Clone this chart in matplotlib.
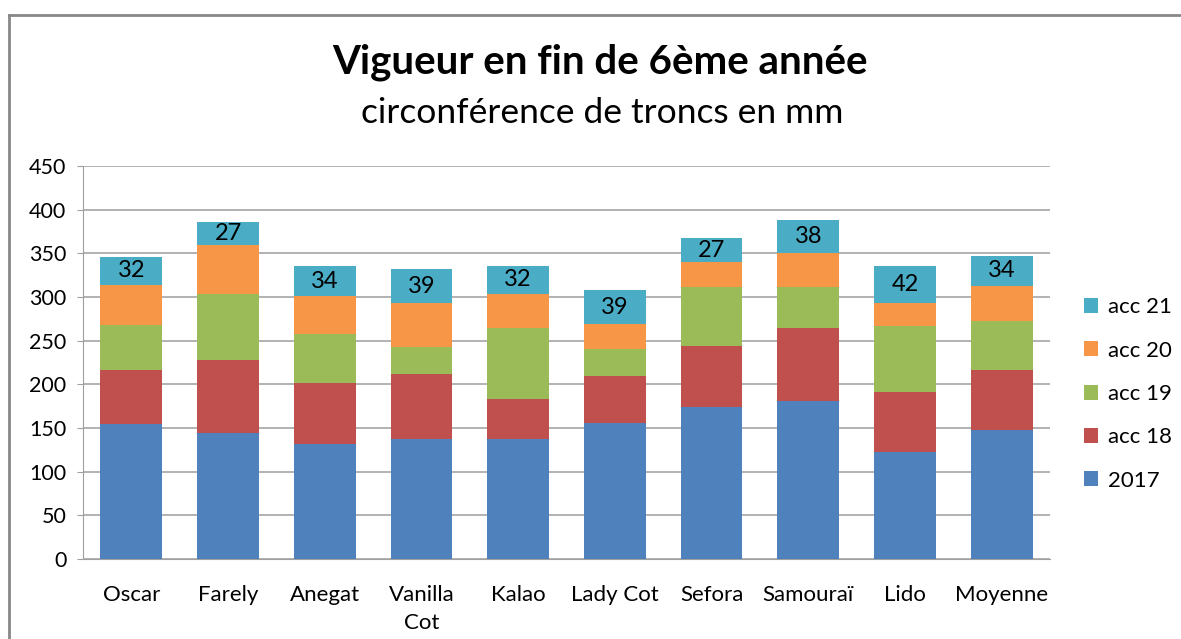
import matplotlib.pyplot as plt
import numpy as np
from matplotlib.lines import Line2D

plt.rcParams['font.family'] = ['Lato', 'DejaVu Sans']

varietes = ["Oscar", "Farely", "Anegat", "Vanilla\nCot", "Kalao", "Lady Cot",
            "Sefora", "Samouraï", "Lido", "Moyenne"]
v2017 = [155, 144, 132, 137, 137, 156, 174, 181, 123, 148]
acc18 = [61, 84, 70, 75, 46, 53, 70, 84, 68, 68]
acc19 = [52, 76, 56, 31, 82, 31, 68, 46, 76, 57]
acc20 = [46, 55, 43, 50, 39, 29, 28, 39, 26, 40]
acc21 = [32, 27, 34, 39, 32, 39, 27, 38, 42, 34]

series = [("2017", v2017, "#4F81BD"), ("acc 18", acc18, "#C0504D"),
          ("acc 19", acc19, "#9BBB59"), ("acc 20", acc20, "#F79646"),
          ("acc 21", acc21, "#4BACC6")]

fig = plt.figure(figsize=(11.81, 6.39), dpi=100)
ax = fig.add_axes([83/1181, 1-559/639, (1050-83)/1181, (559-166)/639])

x = np.arange(len(varietes))
bas = np.zeros(len(varietes))
barres = []
for nom, val, coul in series:
    b = ax.bar(x, val, 0.64, bottom=bas, color=coul, label=nom, zorder=3)
    barres.append(b)
    bas = bas + np.array(val)

ax.bar_label(barres[-1], labels=[str(v) for v in acc21], label_type="center",
             fontsize=17, color="black", zorder=4)

ax.set_ylim(0, 450)
ax.set_xlim(-0.5, len(varietes) - 0.5)
ax.set_yticks(range(0, 451, 50))
ax.set_yticklabels([str(t) for t in range(0, 451, 50)], fontsize=15.5)
ax.set_xticks(x)
ax.set_xticklabels(varietes, fontsize=16, linespacing=1.5)
ax.tick_params(axis="x", length=0, pad=19)
ax.tick_params(axis="y", length=4, color="#A0A0A0", pad=8)
ax.grid(axis="y", color="#A6A6A6", linewidth=1.2, zorder=0)
for s in ["top", "right"]:
    ax.spines[s].set_visible(False)
ax.spines["left"].set_color("#A0A0A0")
ax.spines["bottom"].set_color("#A0A0A0")

h, l = ax.get_legend_handles_labels()
fig.legend(h[::-1], l[::-1], loc="center left", bbox_to_anchor=(1084/1181, 1-394/639),
           frameon=False, fontsize=16, handlelength=0.65, handleheight=0.65,
           handletextpad=0.45, labelspacing=1.05, borderpad=0, borderaxespad=0)

fig.text(600/1181, 1-62/639, "Vigueur en fin de 6ème année", ha="center", va="center",
         fontsize=29, fontweight="bold")
fig.text(602/1181, 1-113/639, "circonférence de troncs en mm", ha="center", va="center",
         fontsize=25.5)

# cadre du graphique
fig.add_artist(Line2D([9/1181, 9/1181], [0, 1-15/639], color="#888888", linewidth=2))
fig.add_artist(Line2D([9/1181, 1], [1-15/639, 1-15/639], color="#888888", linewidth=2))

plt.savefig("out.png", dpi=100)
